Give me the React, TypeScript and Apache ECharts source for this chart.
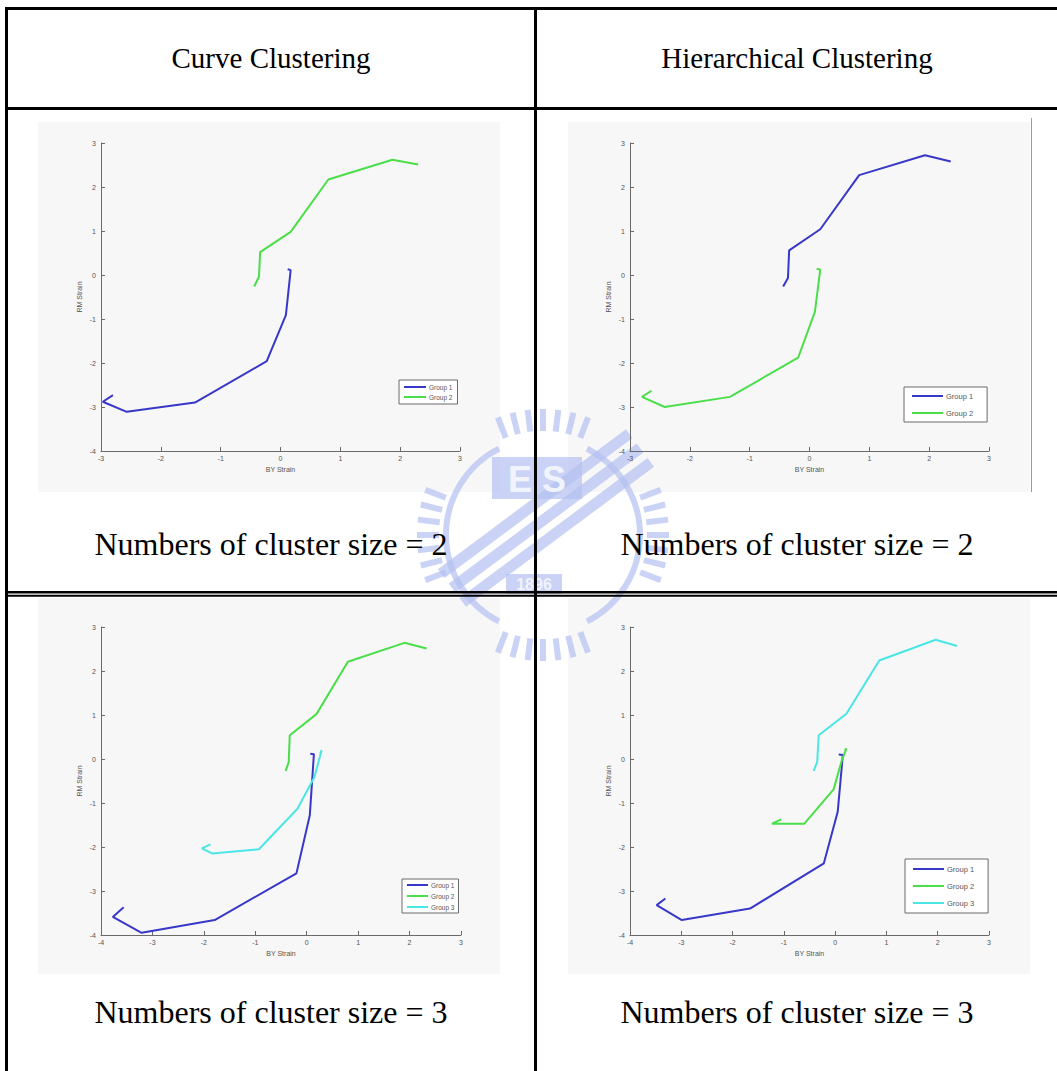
import React, { useEffect, useRef } from 'react';
import * as echarts from 'echarts';

// ---------- texts ----------
const headers = ['Curve Clustering', 'Hierarchical Clustering'];
const captions = [
  'Numbers of cluster size = 2',
  'Numbers of cluster size = 2',
  'Numbers of cluster size = 3',
  'Numbers of cluster size = 3',
];
const groupNames = ['Group 1', 'Group 2', 'Group 3'];
const groupColors = ['#3838c8', '#4ade4a', '#4ae6e6'];
const xAxisName = 'BY Strain';
const yAxisName = 'RM Strain';

// ---------- data ([BY strain, RM strain]) ----------
// Curve clustering, 2 clusters
const ccTwoGroup1 = [[-2.8, -2.73], [-2.97, -2.88], [-2.57, -3.11], [-1.43, -2.9], [-0.23, -1.96], [0.09, -0.91], [0.17, 0.11], [0.12, 0.13]];
const ccTwoGroup2 = [[-0.44, -0.26], [-0.36, -0.04], [-0.34, 0.52], [0.17, 0.98], [0.8, 2.17], [1.87, 2.62], [2.3, 2.51]];
// Hierarchical clustering, 2 clusters
const hcTwoGroup1 = [[-0.44, -0.26], [-0.36, -0.07], [-0.34, 0.56], [0.18, 1.04], [0.83, 2.27], [1.93, 2.72], [2.36, 2.58]];
const hcTwoGroup2 = [[-2.64, -2.63], [-2.8, -2.77], [-2.42, -3.0], [-1.33, -2.77], [-0.19, -1.88], [0.09, -0.84], [0.18, 0.12], [0.12, 0.14]];
// Curve clustering, 3 clusters
const ccThreeGroup1 = [[-3.56, -3.37], [-3.77, -3.59], [-3.21, -3.95], [-1.79, -3.66], [-0.2, -2.6], [0.06, -1.28], [0.14, 0.11], [0.07, 0.12]];
const ccThreeGroup2 = [[-0.41, -0.27], [-0.35, -0.07], [-0.33, 0.54], [0.19, 1.02], [0.8, 2.21], [1.9, 2.64], [2.33, 2.51]];
const ccThreeGroup3 = [[-1.87, -1.94], [-2.04, -2.03], [-1.83, -2.15], [-0.93, -2.05], [-0.18, -1.13], [0.15, -0.41], [0.29, 0.2], [0.26, 0.12]];
// Hierarchical clustering, 3 clusters
const hcThreeGroup1 = [[-3.31, -3.17], [-3.48, -3.32], [-2.99, -3.66], [-1.66, -3.4], [-0.22, -2.37], [0.05, -1.2], [0.15, 0.09], [0.07, 0.1]];
const hcThreeGroup2 = [[-1.05, -1.37], [-1.23, -1.47], [-0.6, -1.47], [-0.03, -0.69], [0.13, -0.03], [0.22, 0.24], [0.19, 0.2]];
const hcThreeGroup3 = [[-0.42, -0.27], [-0.35, -0.07], [-0.32, 0.54], [0.22, 1.03], [0.86, 2.24], [1.96, 2.71], [2.38, 2.57]];

const xRangeTop = [-3, 3];
const xRangeBottom = [-4, 3];
const yRange = [-4, 3];

// ---------- layout ----------
const panels = [
  { left: 101, top: 143, width: 359, height: 308, xr: xRangeTop, data: [ccTwoGroup1, ccTwoGroup2],
    bg: [38, 122, 462, 370],
    legend: { left: 399, top: 380, padding: [3, 5, 3, 5], itemWidth: 22, itemGap: 2, fontSize: 6.5, lineHeight: 8 } },
  { left: 630, top: 143, width: 359, height: 308, xr: xRangeTop, data: [hcTwoGroup1, hcTwoGroup2],
    bg: [568, 122, 462, 370],
    legend: { left: 904, top: 387, padding: [4, 14, 4, 8], itemWidth: 31, itemGap: 7, fontSize: 7.5, lineHeight: 10 } },
  { left: 101, top: 627, width: 360, height: 308, xr: xRangeBottom, data: [ccThreeGroup1, ccThreeGroup2, ccThreeGroup3],
    bg: [38, 598, 462, 376],
    legend: { left: 402, top: 879, padding: [2, 4, 2, 5], itemWidth: 21, itemGap: 3, fontSize: 6.5, lineHeight: 8 } },
  { left: 630, top: 627, width: 359, height: 308, xr: xRangeBottom, data: [hcThreeGroup1, hcThreeGroup2, hcThreeGroup3],
    bg: [568, 598, 462, 376],
    legend: { left: 905, top: 859, padding: [5, 14, 5, 8], itemWidth: 31, itemGap: 7, fontSize: 7.5, lineHeight: 10 } },
];

const serif = '"Liberation Serif", "Times New Roman", serif';
const sans = '"Liberation Sans", Arial, sans-serif';
const WM = '#b4c1f1';
const WMO = 0.7;

function buildWatermark(): any[] {
  const cx = 543, cy = 535;
  const els: any[] = [];
  // gear teeth clusters
  [0, 90, 180, 270].forEach((base) => {
    for (let k = -3; k <= 3; k++) {
      const deg = base + k * 7;
      els.push({
        type: 'rect', x: cx, y: cy, rotation: (-deg * Math.PI) / 180, z: -5, silent: true,
        shape: { x: 104, y: -3, width: 22, height: 6 },
        style: { fill: WM, opacity: WMO },
      });
    }
  });
  // inner ring arcs
  els.push({ type: 'arc', z: -5, silent: true, shape: { cx, cy, r: 97, startAngle: Math.PI * 0.65, endAngle: Math.PI * 1.35 }, style: { stroke: WM, lineWidth: 6, fill: 'none', opacity: WMO } });
  els.push({ type: 'arc', z: -5, silent: true, shape: { cx, cy, r: 97, startAngle: -Math.PI * 0.35, endAngle: Math.PI * 0.35 }, style: { stroke: WM, lineWidth: 6, fill: 'none', opacity: WMO } });
  // diagonal stripes
  [-18, 0, 18].forEach((off) => {
    const dx = off * 0.6, dy = off * 0.8;
    els.push({ type: 'line', z: -5, silent: true, shape: { x1: 452 + dx, y1: 588 + dy, x2: 640 + dx, y2: 448 + dy }, style: { stroke: WM, lineWidth: 11, opacity: WMO } });
  });
  // ES box
  els.push({ type: 'rect', z: -5, silent: true, shape: { x: 492, y: 457, width: 90, height: 42 }, style: { fill: WM, opacity: WMO } });
  els.push({ type: 'text', z: -4, silent: true, x: 537, y: 479, style: { text: 'E S', fill: '#f1f3fd', font: `bold 36px ${sans}`, align: 'center', verticalAlign: 'middle' } });
  // 1896 box
  els.push({ type: 'rect', z: -5, silent: true, shape: { x: 506, y: 574, width: 56, height: 20 }, style: { fill: WM, opacity: WMO } });
  els.push({ type: 'text', z: -4, silent: true, x: 534, y: 584, style: { text: '1896', fill: '#f1f3fd', font: `bold 16px ${sans}`, align: 'center', verticalAlign: 'middle' } });
  return els;
}

function buildTable(): any[] {
  const black = { fill: '#000' };
  const rects = [
    [5, 7, 1052, 3], // top
    [5, 7, 3, 1064], // left
    [5, 107, 1052, 3], // header bottom
    [534, 7, 3, 1064], // middle divider
    [5, 591, 1052, 2.5], // double line a
    [5, 594.8, 1052, 2], // double line b
  ];
  const els: any[] = rects.map(([x, y, w, h]) => ({ type: 'rect', z: 50, silent: true, shape: { x, y, width: w, height: h }, style: black }));
  // vertical frame line at right of top-right figure
  els.push({ type: 'rect', z: -8, silent: true, shape: { x: 1031, y: 118, width: 1, height: 374 }, style: { fill: '#9a9a9a' } });
  const colCenters = [271, 797];
  headers.forEach((t, i) => els.push({ type: 'text', z: 60, silent: true, x: colCenters[i], y: 58, style: { text: t, fill: '#000', font: `29px ${serif}`, align: 'center', verticalAlign: 'middle' } }));
  const capY = [544, 544, 1012, 1012];
  captions.forEach((t, i) => els.push({ type: 'text', z: 60, silent: true, x: colCenters[i % 2], y: capY[i], style: { text: t, fill: '#000', font: `32px ${serif}`, align: 'center', verticalAlign: 'middle' } }));
  return els;
}

export default function App() {
  const ref = useRef<HTMLDivElement>(null);
  useEffect(() => {
    if (!ref.current) return;
    const chart = echarts.init(ref.current, undefined, { renderer: 'svg' });
    const axisColor = '#6a6a6a';
    const option: any = {
      animation: false,
      backgroundColor: '#ffffff',
      grid: panels.map((p) => ({ left: p.left, top: p.top, width: p.width, height: p.height, containLabel: false })),
      xAxis: panels.map((p, i) => ({
        type: 'value', gridIndex: i, min: p.xr[0], max: p.xr[1], interval: 1,
        name: xAxisName, nameLocation: 'middle', nameGap: 15,
        nameTextStyle: { fontSize: 7, color: '#555', fontFamily: sans },
        axisLine: { show: true, onZero: false, lineStyle: { color: axisColor, width: 1 } },
        axisTick: { show: true, inside: true, length: 4, lineStyle: { color: axisColor } },
        axisLabel: { fontSize: 7, color: '#555', fontFamily: sans, margin: 4 },
        splitLine: { show: false },
      })),
      yAxis: panels.map((p, i) => ({
        type: 'value', gridIndex: i, min: yRange[0], max: yRange[1], interval: 1,
        name: yAxisName, nameLocation: 'middle', nameGap: 18, nameRotate: 90,
        nameTextStyle: { fontSize: 7, color: '#555', fontFamily: sans },
        axisLine: { show: true, onZero: false, lineStyle: { color: axisColor, width: 1 } },
        axisTick: { show: true, inside: true, length: 4, lineStyle: { color: axisColor } },
        axisLabel: { fontSize: 7, color: '#555', fontFamily: sans, margin: 5 },
        splitLine: { show: false },
      })),
      legend: panels.map((p) => ({
        orient: 'vertical', left: p.legend.left, top: p.legend.top, padding: p.legend.padding,
        itemWidth: p.legend.itemWidth, itemHeight: 2, itemGap: p.legend.itemGap, icon: 'rect',
        data: groupNames.slice(0, p.data.length),
        borderColor: '#6a6a6a', borderWidth: 1, backgroundColor: '#ffffff',
        textStyle: { fontSize: p.legend.fontSize, lineHeight: p.legend.lineHeight, color: '#555', fontFamily: sans, padding: [0, 0, 0, -2] },
        selectedMode: false,
      })),
      series: panels.flatMap((p, i) => p.data.map((d, g) => ({
        type: 'line', name: groupNames[g], xAxisIndex: i, yAxisIndex: i, data: d,
        showSymbol: false, symbol: 'none', smooth: false, z: 5,
        lineStyle: { width: 2, color: groupColors[g] }, itemStyle: { color: groupColors[g] },
      }))),
      graphic: {
        elements: [
          ...panels.map((p) => ({ type: 'rect', z: -10, silent: true, shape: { x: p.bg[0], y: p.bg[1], width: p.bg[2], height: p.bg[3] }, style: { fill: '#f7f7f7' } })),
          ...buildWatermark(),
          ...buildTable(),
        ],
      },
    };
    chart.setOption(option);
    return () => chart.dispose();
  }, []);
  return <div ref={ref} style={{ position: 'absolute', left: 0, top: 0, width: 1057, height: 1071, background: '#fff' }} />;
}
